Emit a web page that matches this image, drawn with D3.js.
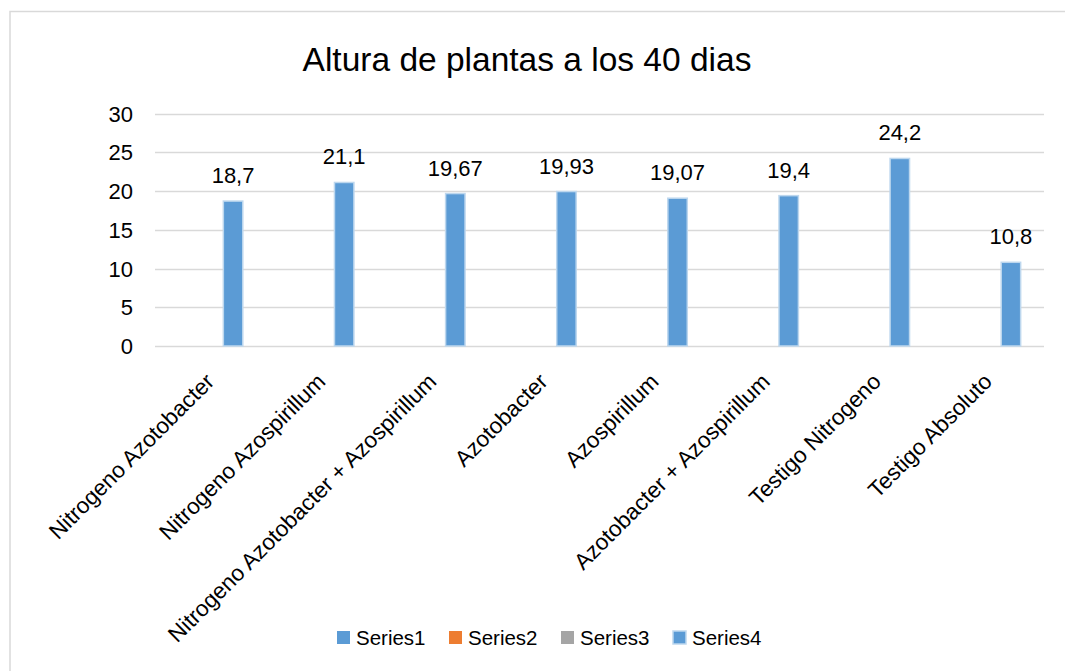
<!DOCTYPE html>
<html><head><meta charset="utf-8">
<script src="https://cdn.jsdelivr.net/npm/d3@7"></script>
<style>body{margin:0;background:#fff}svg{display:block}</style>
</head><body>
<svg id="c" width="1065" height="671"></svg>
<script>
const title = "Altura de plantas a los 40 dias";
const categories = ["Nitrogeno Azotobacter","Nitrogeno Azospirillum","Nitrogeno Azotobacter + Azospirillum","Azotobacter","Azospirillum","Azotobacter + Azospirillum","Testigo Nitrogeno","Testigo Absoluto"];
const seriesNames = ["Series1","Series2","Series3","Series4"];
const series1 = [null,null,null,null,null,null,null,null];
const series2 = [null,null,null,null,null,null,null,null];
const series3 = [null,null,null,null,null,null,null,null];
const series4 = [18.7,21.1,19.67,19.93,19.07,19.4,24.2,10.8];
const yTicks = [0,5,10,15,20,25,30];
const seriesColors = ["#5B9BD5","#ED7D31","#A5A5A5","#5B9BD5"];

const allSeries = [series1,series2,series3,series4];
const font = "'Liberation Sans', Arial, sans-serif";
const svg = d3.select("#c");

svg.append("rect").attr("x",10).attr("y",11.5).attr("width",1100).attr("height",700)
  .attr("fill","#fff").attr("stroke","#D9D9D9").attr("stroke-width",1.5);

svg.append("text").attr("x",527).attr("y",71).attr("text-anchor","middle")
  .attr("font-family",font).attr("font-size",33.5).attr("fill","#000").text(title);

const x0 = d3.scaleBand().domain(categories).range([155,1044]).padding(0);
const bw = x0.bandwidth();
const xs = d3.scaleLinear().domain([0,3]).range([bw*0.21, bw*0.615]);
const barW = bw*0.175;
const y = d3.scaleLinear().domain([0,30]).range([346,113.5]);

const g = svg.append("g");
g.selectAll("line.grid").data(yTicks).join("line")
  .attr("x1",155).attr("x2",1044).attr("y1",d=>Math.round(y(d))+0.5).attr("y2",d=>Math.round(y(d))+0.5)
  .attr("stroke","#D9D9D9").attr("stroke-width",1.3);

const yAxis = d3.axisLeft(y).tickValues(yTicks).tickSize(0).tickPadding(0);
const ya = svg.append("g").attr("transform","translate(133,0)").call(yAxis);
ya.select(".domain").remove();
ya.selectAll("text").attr("font-family",font).attr("font-size",22).attr("fill","#000").attr("dy","0.35em");

allSeries.forEach((vals,si)=>{
  const data = categories.map((c,i)=>({c,v:vals[i]})).filter(d=>d.v!=null);
  const cx = d=>x0(d.c)+xs(si);
  g.selectAll("rect.s"+si).data(data).join("rect")
    .attr("x",cx).attr("y",d=>y(d.v)).attr("width",barW).attr("height",d=>y(0)-y(d.v))
    .attr("fill",seriesColors[si]).attr("stroke",si===3?"#BDD7EE":"none").attr("stroke-width",1.5);
  g.selectAll("text.l"+si).data(data).join("text")
    .attr("x",d=>cx(d)+barW/2).attr("y",d=>y(d.v)-18).attr("text-anchor","middle")
    .attr("font-family",font).attr("font-size",22).attr("fill","#000")
    .text(d=>String(d.v).replace(".",","));
});

const xa = svg.append("g").attr("transform","translate(0,346)");
xa.selectAll("text").data(categories).join("text")
  .attr("transform",d=>`translate(${x0(d)+bw/2+5},${37}) rotate(-45)`)
  .attr("text-anchor","end").attr("font-family",font).attr("font-size",22.5).attr("fill","#000")
  .text(d=>d);

const lg = svg.append("g").attr("transform","translate(337,637)");
seriesNames.forEach((n,i)=>{
  const gi = lg.append("g").attr("transform",`translate(${i*112},0)`);
  gi.append("rect").attr("x",0).attr("y",-6).attr("width",13).attr("height",13)
    .attr("fill",seriesColors[i]).attr("stroke",i===3?"#BDD7EE":"none").attr("stroke-width",1.5);
  gi.append("text").attr("x",19).attr("y",1).attr("dy","0.35em")
    .attr("font-family",font).attr("font-size",20.5).attr("fill","#000").text(n);
});
</script>
</body></html>
